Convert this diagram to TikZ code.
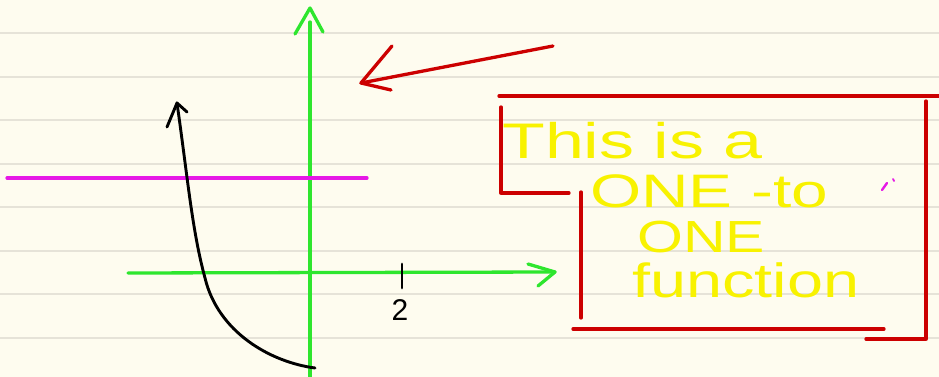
\documentclass[tikz,border=0pt]{standalone}
\usepackage{fontspec}
\setmainfont{Liberation Sans}
\begin{document}
\begin{tikzpicture}[x=1pt,y=-1pt, line cap=round, line join=round]
\definecolor{paper}{HTML}{FEFCEF}
\definecolor{ruleclr}{HTML}{E6E3D8}
\definecolor{pgreen}{HTML}{2EE62E}
\definecolor{pred}{HTML}{CC0000}
\definecolor{pmag}{HTML}{E619E6}
\definecolor{pyel}{HTML}{F8F200}
\tikzset{
  ruling/.style={draw=ruleclr, line width=1.4pt},
  axis/.style={draw=pgreen, line width=3.3pt},
  redpen/.style={draw=pred, line width=3.3pt},
  blackpen/.style={draw=black, line width=2.9pt},
  magpen/.style={draw=pmag, line width=3.2pt},
  ytext/.style={text=pyel, inner sep=0pt, anchor=base west},
}
\fill[paper] (0,0) rectangle (939,377);
\useasboundingbox (0,0) rectangle (939,377);
% ruled paper
\foreach \yy in {33,77,120,164,207,251,294,338}
  \draw[ruling] (0,\yy) -- (939,\yy);
% axes
\coordinate (ytop) at (310,8);
\coordinate (ybot) at (310,380);
\draw[axis] (ybot) -- (310,22);
\draw[axis] (295,34) -- (ytop) -- (323,32);
\coordinate (xleft) at (128,273);
\coordinate (xtip) at (555,272);
\draw[axis] (xleft) -- (xtip);
\draw[axis] (528,264) -- (xtip) -- (538,286);
% tick and label
\draw[blackpen] (402,264) -- (402,288);
\node[inner sep=0pt, anchor=base, font=\fontsize{30}{30}\selectfont] (two) at (400,320) {2};
% magenta horizontal line
\draw[magpen] (7,178) -- (367,178);
% black curve
\coordinate (cstart) at (315,368);
\coordinate (ctip) at (177,103);
\draw[blackpen] (cstart) .. controls (270,362) and (218,332) .. (205,278)
  .. controls (192,230) and (188,180) .. (ctip);
\draw[blackpen] (167,127) -- (ctip) -- (187,112);
% red arrow
\coordinate (rstart) at (553,46);
\coordinate (rtip) at (361,83);
\draw[redpen] (rstart) -- (rtip);
\draw[redpen] (392,46) -- (rtip) -- (391,90);
% red box
\draw[redpen] (499,96) -- (939,96);
\draw[redpen] (926,101) -- (926,339) -- (866,339);
\draw[redpen] (501,107) -- (501,193) -- (569,193);
\draw[redpen] (581,192) -- (581,318);
\draw[redpen] (573,329) -- (884,329);
% yellow text
\node[ytext, font=\fontsize{50}{50}\selectfont, xscale=1.4] (l1) at (502,158) {This is a};
\node[ytext, font=\fontsize{47}{47}\selectfont, xscale=1.4] (l2) at (590,207) {ONE -to};
\node[ytext, font=\fontsize{45}{45}\selectfont, xscale=1.31] (l3) at (637,252) {ONE};
\node[ytext, font=\fontsize{48}{48}\selectfont, xscale=1.35] (l4) at (632,297) {function};
% magenta marks
\draw[magpen, line width=2.4pt] (882,190) -- (887,183);
\draw[magpen, line width=1.8pt] (893,179) -- (894,181);
\end{tikzpicture}
\end{document}
